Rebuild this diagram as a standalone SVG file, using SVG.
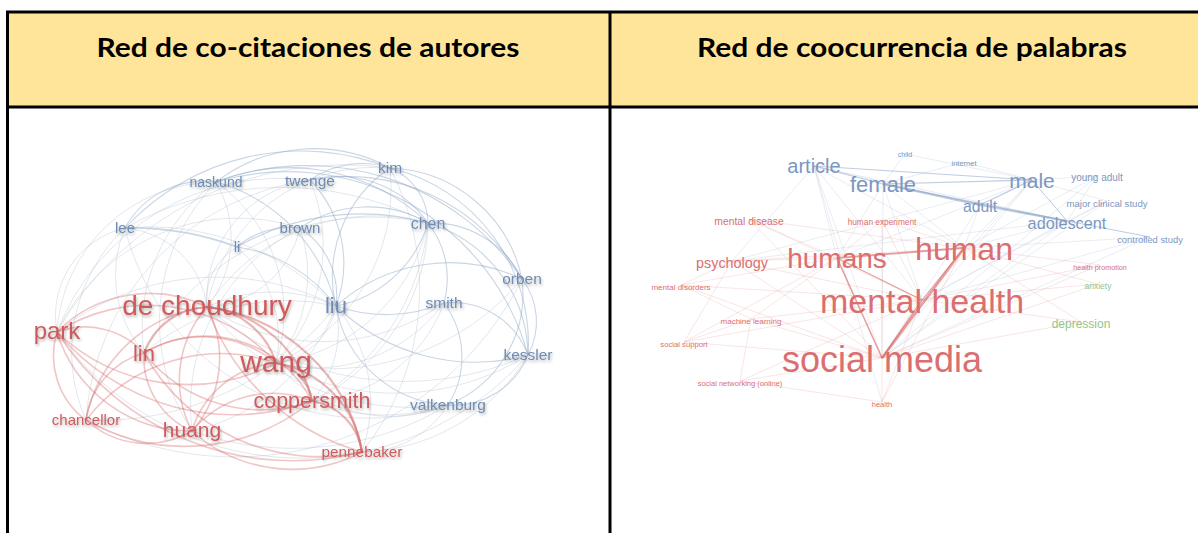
<svg xmlns="http://www.w3.org/2000/svg" width="1198" height="533" viewBox="0 0 1198 533">
<style>
.hdr{font-family:Lato,"Open Sans","Liberation Sans",sans-serif;font-weight:700;font-size:27px;fill:#000}
.ln{font-family:"Liberation Sans",Arial,sans-serif;text-anchor:middle}
.lr{fill:#cf5a5c;filter:url(#sh)}
.lb{fill:#6d8bb4;filter:url(#sh)}
.rr{fill:#db6e6f}
.rb{fill:#7c97c0}
.rg{fill:#94c48e}
.eg{fill:none;stroke:#b4bfcf;stroke-width:1;opacity:.38}
.eb{fill:none;stroke:#8aa3c4;stroke-width:1.1;opacity:.45}
.er{fill:none;stroke:#d97070;stroke-width:1.6;opacity:.4}
.ers{fill:none;stroke:#d46464;stroke-width:2.2;opacity:.48}
.rs{stroke:#d96a6a;opacity:.65}
.rl{stroke:#eba9a9;stroke-width:.8;opacity:.38}
.bs{stroke:#8aa2c6;opacity:.55}
.bl{stroke:#bcc8db;stroke-width:.8;opacity:.42}
</style>
<defs>
<filter id="sh" x="-20%" y="-40%" width="140%" height="200%">
<feDropShadow dx="1" dy="2" stdDeviation="1.6" flood-color="#000" flood-opacity="0.28"/>
</filter>
</defs>
<rect width="1198" height="533" fill="#fff"/>
<g id="table">
<rect x="7" y="12" width="1191" height="95" fill="#FFE599"/>
<line x1="6" y1="12" x2="1198" y2="12" stroke="#000" stroke-width="3"/>
<line x1="6" y1="107" x2="1198" y2="107" stroke="#000" stroke-width="3"/>
<line x1="7.5" y1="11" x2="7.5" y2="533" stroke="#000" stroke-width="3"/>
<line x1="610" y1="11" x2="610" y2="533" stroke="#000" stroke-width="3"/>
</g>
<g id="header-left"><text class="hdr" x="308" y="57" text-anchor="middle" textLength="423" lengthAdjust="spacingAndGlyphs">Red de co-citaciones de autores</text></g>
<g id="header-right"><text class="hdr" x="912" y="57" text-anchor="middle" textLength="430" lengthAdjust="spacingAndGlyphs">Red de coocurrencia de palabras</text></g>

<g id="connectors-left">
<path class="eb" style="stroke-width:1.8" d="M125 228 A 300 300 0 0 1 237 247"/>
<path class="eb" d="M237 247 A 150 150 0 0 1 336 306"/>
<path class="eb" d="M237 247 A 250 250 0 0 1 428 223"/>
<path class="eb" d="M237 247 A 80 80 0 0 1 300 228"/>
<path class="eb" d="M336 306 A 120 120 0 0 0 428 223"/>
<path class="eb" d="M336 306 A 150 150 0 0 0 444 303"/>
<path class="eb" d="M336 306 A 200 200 0 0 0 528 355"/>
<path class="eb" d="M336 306 A 120 120 0 0 0 448 405"/>
<path class="eb" d="M390 168 A 60 60 0 0 1 428 223"/>
<path class="eb" d="M310 180 A 90 90 0 0 1 390 168"/>
<path class="eb" d="M390 168 A 140 140 0 0 1 522 279"/>
<path class="eb" d="M428 223 A 100 100 0 0 1 522 279"/>
<path class="eb" d="M428 223 A 90 90 0 0 1 444 303"/>
<path class="eb" d="M216 182 A 200 200 0 0 1 428 223"/>
<path class="eb" d="M216 182 A 160 160 0 0 1 390 168"/>
<path class="eb" d="M310 180 A 120 120 0 0 1 336 306"/>
<path class="eb" d="M444 303 A 80 80 0 0 1 528 355"/>
<path class="eb" d="M528 355 A 80 80 0 0 1 448 405"/>
<path class="eb" d="M444 303 A 90 90 0 0 1 448 405"/>
<path class="eb" d="M522 279 A 70 70 0 0 1 528 355"/>
<path class="eb" d="M522 279 A 120 120 0 0 1 448 405"/>
<path class="eb" d="M390 168 A 130 130 0 0 0 336 306"/>
<path class="eb" d="M216 182 A 170 170 0 0 1 336 306"/>
<path class="eb" d="M125 228 A 90 90 0 0 1 216 182"/>
<path class="eb" d="M125 228 A 240 240 0 0 1 390 168"/>
<path class="eb" d="M310 180 A 110 110 0 0 1 428 223"/>
<path class="eb" d="M300 228 A 80 80 0 0 1 336 306"/>
<path class="eb" d="M300 228 A 120 120 0 0 1 428 223"/>
<path class="eb" d="M310 180 A 200 200 0 0 1 522 279"/>
<path class="eb" d="M390 168 A 180 180 0 0 1 528 355"/>
<path class="eb" d="M428 223 A 140 140 0 0 1 528 355"/>
<path class="eb" d="M216 182 A 260 260 0 0 1 522 279"/>
<path class="eb" d="M336 306 A 170 170 0 0 1 522 279"/>
<path class="eb" d="M216 182 A 250 250 0 0 1 528 355"/>
<path class="eg" d="M207 307 A 150 150 0 0 1 336 306"/>
<path class="eg" d="M207 307 A 200 200 0 0 1 428 223"/>
<path class="eg" d="M207 307 A 170 170 0 0 1 390 168"/>
<path class="eg" d="M207 307 A 120 120 0 0 1 310 180"/>
<path class="eg" d="M207 307 A 110 110 0 0 0 216 182"/>
<path class="eg" d="M125 228 A 90 90 0 0 1 207 307"/>
<path class="eg" d="M207 307 A 210 210 0 0 0 444 303"/>
<path class="eg" d="M276 363 A 70 70 0 0 0 336 306"/>
<path class="eg" d="M276 363 A 180 180 0 0 0 428 223"/>
<path class="eg" d="M276 363 A 160 160 0 0 0 444 303"/>
<path class="eg" d="M276 363 A 150 150 0 0 0 448 405"/>
<path class="eg" d="M276 363 A 250 250 0 0 0 528 355"/>
<path class="eg" d="M216 182 A 160 160 0 0 1 276 363"/>
<path class="eg" d="M310 180 A 170 170 0 0 1 276 363"/>
<path class="eg" d="M390 168 A 190 190 0 0 1 276 363"/>
<path class="eg" d="M57 332 A 260 260 0 0 1 336 306"/>
<path class="eg" d="M57 332 A 90 90 0 0 1 125 228"/>
<path class="eg" d="M57 332 A 160 160 0 0 1 216 182"/>
<path class="eg" d="M57 332 A 240 240 0 0 1 310 180"/>
<path class="eg" d="M57 332 A 330 330 0 0 1 390 168"/>
<path class="eg" d="M144 353 A 220 220 0 0 1 336 306"/>
<path class="eg" d="M125 228 A 120 120 0 0 0 144 353"/>
<path class="eg" d="M144 353 A 180 180 0 0 1 216 182"/>
<path class="eg" d="M312 401 A 110 110 0 0 0 336 306"/>
<path class="eg" d="M312 401 A 150 150 0 0 0 444 303"/>
<path class="eg" d="M312 401 A 200 200 0 0 0 448 405"/>
<path class="eg" d="M312 401 A 200 200 0 0 0 428 223"/>
<path class="eg" d="M192 431 A 200 200 0 0 0 336 306"/>
<path class="eg" d="M192 431 A 300 300 0 0 0 448 405"/>
<path class="eg" d="M86 420 A 300 300 0 0 0 336 306"/>
<path class="eg" d="M86 420 A 170 170 0 0 1 125 228"/>
<path class="eg" d="M362 452 A 100 100 0 0 0 448 405"/>
<path class="eg" d="M362 452 A 150 150 0 0 0 336 306"/>
<path class="eg" d="M362 452 A 200 200 0 0 0 528 355"/>
<path class="eg" d="M125 228 A 260 260 0 0 1 336 306"/>
<path class="eg" d="M125 228 A 320 320 0 0 1 428 223"/>
<path class="eg" d="M237 247 A 120 120 0 0 1 276 363"/>
<path class="eg" d="M237 247 A 60 60 0 0 0 207 307"/>
<path class="eg" d="M300 228 A 140 140 0 0 1 276 363"/>
<path class="eg" d="M300 228 A 100 100 0 0 1 207 307"/>
<path class="eg" d="M522 279 A 250 250 0 0 1 276 363"/>
<path class="eg" d="M528 355 A 300 300 0 0 1 207 307"/>
<path class="eg" d="M448 405 A 260 260 0 0 1 207 307"/>
<path class="eg" d="M125 228 A 250 250 0 0 0 448 405"/>
<path class="eg" d="M57 332 A 300 300 0 0 0 528 355"/>
<path class="eg" d="M86 420 A 320 320 0 0 0 522 279"/>
<path class="eg" d="M216 182 A 200 200 0 0 0 192 431"/>
<path class="eg" d="M310 180 A 260 260 0 0 0 86 420"/>
<path class="eg" d="M390 168 A 260 260 0 0 1 362 452"/>
<path class="eg" d="M428 223 A 230 230 0 0 1 312 401"/>
<path class="eg" d="M300 228 A 200 200 0 0 0 192 431"/>
<path class="eg" d="M57 332 A 200 200 0 0 1 300 228"/>
<path class="eg" d="M144 353 A 260 260 0 0 1 428 223"/>
<path class="er" d="M57 332 A 130 130 0 0 1 207 307"/>
<path class="ers" d="M144 353 A 70 70 0 0 1 207 307"/>
<path class="ers" d="M207 307 A 80 80 0 0 1 276 363"/>
<path class="ers" d="M207 307 A 120 120 0 0 1 312 401"/>
<path class="er" d="M207 307 A 110 110 0 0 1 192 431"/>
<path class="er" d="M207 307 A 110 110 0 0 0 192 431"/>
<path class="ers" d="M207 307 A 180 180 0 0 1 362 452"/>
<path class="er" d="M207 307 A 230 230 0 0 0 362 452"/>
<path class="er" d="M57 332 A 80 80 0 0 1 144 353"/>
<path class="er" d="M57 332 A 190 190 0 0 0 276 363"/>
<path class="er" d="M57 332 A 230 230 0 0 0 312 401"/>
<path class="er" d="M57 332 A 140 140 0 0 0 192 431"/>
<path class="er" d="M57 332 A 80 80 0 0 0 86 420"/>
<path class="er" d="M57 332 A 280 280 0 0 0 362 452"/>
<path class="er" d="M144 353 A 115 115 0 0 1 276 363"/>
<path class="er" d="M144 353 A 150 150 0 0 0 312 401"/>
<path class="er" d="M144 353 A 80 80 0 0 0 192 431"/>
<path class="er" d="M144 353 A 80 80 0 0 0 86 420"/>
<path class="ers" d="M276 363 A 45 45 0 0 1 312 401"/>
<path class="er" d="M276 363 A 95 95 0 0 0 192 431"/>
<path class="ers" d="M276 363 A 105 105 0 0 1 362 452"/>
<path class="ers" d="M312 401 A 60 60 0 0 1 362 452"/>
<path class="er" d="M192 431 A 105 105 0 0 1 312 401"/>
<path class="er" d="M86 420 A 200 200 0 0 0 312 401"/>
<path class="er" d="M86 420 A 90 90 0 0 0 192 431"/>
<path class="er" d="M192 431 A 150 150 0 0 0 362 452"/>
<path class="er" d="M207 307 A 140 140 0 0 0 86 420"/>
<path class="er" d="M144 353 A 200 200 0 0 0 362 452"/>
<path class="er" d="M86 420 A 170 170 0 0 1 276 363"/>
<path class="er" d="M57 332 A 170 170 0 0 1 276 363"/>
<path class="er" d="M144 353 A 120 120 0 0 1 312 401"/>
</g>

<g id="connectors-right" fill="none">
<line class="bl" x1="905" y1="154" x2="1032" y2="180"/>
<line class="bl" x1="964" y1="162" x2="1032" y2="180"/>
<line class="bl" x1="1097" y1="176" x2="1032" y2="180"/>
<line class="bl" x1="1097" y1="176" x2="1067" y2="221"/>
<line class="bl" x1="1107" y1="201" x2="1067" y2="221"/>
<line class="bl" x1="1107" y1="201" x2="1032" y2="180"/>
<line class="bl" x1="905" y1="154" x2="883" y2="184"/>
<line class="bl" x1="964" y1="162" x2="883" y2="184"/>
<line class="bl" x1="814" y1="166" x2="980" y2="205"/>
<line class="bl" x1="814" y1="166" x2="1067" y2="221"/>
<line class="bl" x1="814" y1="166" x2="964" y2="248"/>
<line class="bl" x1="883" y1="184" x2="964" y2="248"/>
<line class="bl" x1="1032" y1="180" x2="964" y2="248"/>
<line class="bl" x1="980" y1="205" x2="964" y2="248"/>
<line class="bl" x1="1067" y1="221" x2="964" y2="248"/>
<line class="bl" x1="814" y1="166" x2="882" y2="358"/>
<line class="bl" x1="883" y1="184" x2="882" y2="358"/>
<line class="bl" x1="1032" y1="180" x2="882" y2="358"/>
<line class="bl" x1="980" y1="205" x2="882" y2="358"/>
<line class="bl" x1="1067" y1="221" x2="882" y2="358"/>
<line class="bl" x1="814" y1="166" x2="922" y2="300"/>
<line class="bl" x1="883" y1="184" x2="922" y2="300"/>
<line class="bl" x1="1032" y1="180" x2="922" y2="300"/>
<line class="bl" x1="1067" y1="221" x2="922" y2="300"/>
<line class="bl" x1="1150" y1="237" x2="922" y2="300"/>
<line class="bl" x1="1107" y1="201" x2="922" y2="300"/>
<line class="bl" x1="1097" y1="176" x2="964" y2="248"/>
<line class="bl" x1="814" y1="166" x2="837" y2="258"/>
<line class="bl" x1="883" y1="184" x2="837" y2="258"/>
<line class="bl" x1="1032" y1="180" x2="837" y2="258"/>
<line class="bl" x1="814" y1="166" x2="882" y2="402"/>
<line class="bl" x1="814" y1="166" x2="732" y2="261"/>
<line class="bl" x1="1032" y1="180" x2="732" y2="261"/>
<line class="bl" x1="1067" y1="221" x2="732" y2="261"/>
<line class="bl" x1="1150" y1="237" x2="964" y2="248"/>
<line class="bl" x1="1097" y1="176" x2="882" y2="358"/>
<line class="bl" x1="1150" y1="237" x2="882" y2="358"/>
<line class="bl" x1="1107" y1="201" x2="882" y2="358"/>
<line class="rl" x1="749" y1="219" x2="964" y2="248"/>
<line class="rl" x1="749" y1="219" x2="837" y2="258"/>
<line class="rl" x1="749" y1="219" x2="882" y2="358"/>
<line class="rl" x1="749" y1="219" x2="922" y2="300"/>
<line class="rl" x1="732" y1="261" x2="837" y2="258"/>
<line class="rl" x1="732" y1="261" x2="882" y2="358"/>
<line class="rl" x1="732" y1="261" x2="922" y2="300"/>
<line class="rl" x1="732" y1="261" x2="964" y2="248"/>
<line class="rl" x1="681" y1="285" x2="837" y2="258"/>
<line class="rl" x1="681" y1="285" x2="882" y2="358"/>
<line class="rl" x1="681" y1="285" x2="922" y2="300"/>
<line class="rl" x1="681" y1="285" x2="732" y2="261"/>
<line class="rl" x1="751" y1="319" x2="882" y2="358"/>
<line class="rl" x1="751" y1="319" x2="922" y2="300"/>
<line class="rl" x1="751" y1="319" x2="837" y2="258"/>
<line class="rl" x1="684" y1="342" x2="882" y2="358"/>
<line class="rl" x1="684" y1="342" x2="922" y2="300"/>
<line class="rl" x1="684" y1="342" x2="837" y2="258"/>
<line class="rl" x1="740" y1="381" x2="882" y2="358"/>
<line class="rl" x1="740" y1="381" x2="922" y2="300"/>
<line class="rl" x1="740" y1="381" x2="882" y2="402"/>
<line class="rl" x1="882" y1="402" x2="882" y2="358"/>
<line class="rl" x1="882" y1="402" x2="922" y2="300"/>
<line class="rl" x1="882" y1="402" x2="964" y2="248"/>
<line class="rl" x1="882" y1="220" x2="964" y2="248"/>
<line class="rl" x1="882" y1="220" x2="837" y2="258"/>
<line class="rl" x1="882" y1="220" x2="922" y2="300"/>
<line class="rl" x1="882" y1="220" x2="882" y2="358"/>
<line class="rl" x1="1100" y1="265" x2="964" y2="248"/>
<line class="rl" x1="1100" y1="265" x2="922" y2="300"/>
<line class="rl" x1="1100" y1="265" x2="882" y2="358"/>
<line class="rl" x1="1098" y1="284" x2="922" y2="300"/>
<line class="rl" x1="1098" y1="284" x2="882" y2="358"/>
<line class="rl" x1="1081" y1="322" x2="922" y2="300"/>
<line class="rl" x1="1081" y1="322" x2="882" y2="358"/>
<line class="rl" x1="1081" y1="322" x2="964" y2="248"/>
<line class="rl" x1="1098" y1="284" x2="964" y2="248"/>
<line class="rl" x1="681" y1="285" x2="751" y2="319"/>
<line class="rl" x1="684" y1="342" x2="751" y2="319"/>
<line class="rl" x1="740" y1="381" x2="751" y2="319"/>
<line class="rl" x1="684" y1="342" x2="732" y2="261"/>
<line class="bs" stroke-width="1.2" x1="814" y1="166" x2="883" y2="184"/>
<line class="bs" stroke-width="1.2" x1="883" y1="184" x2="1032" y2="180"/>
<line class="bs" stroke-width="1" x1="814" y1="166" x2="1032" y2="180"/>
<line class="bs" stroke-width="2" x1="883" y1="184" x2="980" y2="205"/>
<line class="bs" stroke-width="2" x1="980" y1="205" x2="1067" y2="221"/>
<line class="bs" stroke-width="1.3" x1="883" y1="184" x2="1067" y2="221"/>
<line class="bs" stroke-width="1.2" x1="1032" y1="180" x2="980" y2="205"/>
<line class="bs" stroke-width="1" x1="1032" y1="180" x2="1067" y2="221"/>
<line class="bs" stroke-width="1" x1="1067" y1="221" x2="1150" y2="237"/>
<line class="rs" stroke-width="1.1" x1="922" y1="300" x2="964" y2="248"/>
<line class="rs" stroke-width="1.1" x1="837" y1="258" x2="922" y2="300"/>
<line class="rs" stroke-width="1.4" x1="882" y1="358" x2="922" y2="300"/>
<line class="rs" stroke-width="1.8" x1="837" y1="258" x2="964" y2="248"/>
<line class="rs" stroke-width="1.6" x1="882" y1="358" x2="837" y2="258"/>
<line class="rs" stroke-width="2.6" x1="882" y1="358" x2="964" y2="248"/>
</g>

<g id="n-naskund"><text class="ln lb" x="216" y="187" font-size="14">naskund</text></g>
<g id="n-twenge"><text class="ln lb" x="310" y="186" font-size="15.5">twenge</text></g>
<g id="n-kim"><text class="ln lb" x="390" y="173" font-size="15.5">kim</text></g>
<g id="n-lee"><text class="ln lb" x="125" y="233" font-size="15">lee</text></g>
<g id="n-brown"><text class="ln lb" x="300" y="233" font-size="15">brown</text></g>
<g id="n-chen"><text class="ln lb" x="428" y="229" font-size="16">chen</text></g>
<g id="n-li"><text class="ln lb" x="237" y="252" font-size="15">li</text></g>
<g id="n-orben"><text class="ln lb" x="522" y="284" font-size="15.5">orben</text></g>
<g id="n-de-choudhury"><text class="ln lr" x="207" y="315" font-size="28">de choudhury</text></g>
<g id="n-liu"><text class="ln lb" x="336" y="313" font-size="22">liu</text></g>
<g id="n-smith"><text class="ln lb" x="444" y="308" font-size="15.5">smith</text></g>
<g id="n-park"><text class="ln lr" x="57" y="339" font-size="24">park</text></g>
<g id="n-lin"><text class="ln lr" x="144" y="361" font-size="22">lin</text></g>
<g id="n-wang"><text class="ln lr" x="276" y="372" font-size="30">wang</text></g>
<g id="n-kessler"><text class="ln lb" x="528" y="360" font-size="15.5">kessler</text></g>
<g id="n-coppersmith"><text class="ln lr" x="312" y="408" font-size="21.5">coppersmith</text></g>
<g id="n-valkenburg"><text class="ln lb" x="448" y="410" font-size="15.5">valkenburg</text></g>
<g id="n-chancellor"><text class="ln lr" x="86" y="425" font-size="15">chancellor</text></g>
<g id="n-huang"><text class="ln lr" x="192" y="437" font-size="21">huang</text></g>
<g id="n-pennebaker"><text class="ln lr" x="362" y="457" font-size="15.3">pennebaker</text></g>

<g id="w-article"><text class="ln rb" x="814" y="173" font-size="20">article</text></g>
<g id="w-female"><text class="ln rb" x="883" y="192" font-size="22">female</text></g>
<g id="w-child"><text class="ln rb" x="905" y="157" font-size="7">child</text></g>
<g id="w-internet"><text class="ln rb" x="964" y="165.5" font-size="7.5">internet</text></g>
<g id="w-male"><text class="ln rb" x="1032" y="188" font-size="21">male</text></g>
<g id="w-young-adult"><text class="ln rb" x="1097" y="180.5" font-size="10">young adult</text></g>
<g id="w-adult"><text class="ln rb" x="980" y="212" font-size="15.7">adult</text></g>
<g id="w-major-clinical-study"><text class="ln rb" x="1107" y="206.5" font-size="9.6">major clinical study</text></g>
<g id="w-adolescent"><text class="ln rb" x="1067" y="229" font-size="16.3">adolescent</text></g>
<g id="w-controlled-study"><text class="ln rb" x="1150" y="242.5" font-size="9.4">controlled study</text></g>
<g id="w-mental-disease"><text class="ln rr" x="749" y="224.5" font-size="10.3">mental disease</text></g>
<g id="w-human-experiment"><text class="ln rr" x="882" y="225" font-size="8.3">human experiment</text></g>
<g id="w-psychology"><text class="ln rr" x="732" y="268" font-size="14.4">psychology</text></g>
<g id="w-humans"><text class="ln rr" x="837" y="268" font-size="28">humans</text></g>
<g id="w-human"><text class="ln rr" x="964" y="260" font-size="32">human</text></g>
<g id="w-health-promotion"><text class="ln rr" x="1100" y="269.5" font-size="7.2">health promotion</text></g>
<g id="w-mental-disorders"><text class="ln rr" x="681" y="290" font-size="8">mental disorders</text></g>
<g id="w-anxiety"><text class="ln rg" x="1098" y="289" font-size="8.5">anxiety</text></g>
<g id="w-mental-health"><text class="ln rr" x="922" y="313" font-size="34">mental health</text></g>
<g id="w-machine-learning"><text class="ln rr" x="751" y="324" font-size="8">machine learning</text></g>
<g id="w-depression"><text class="ln rg" x="1081" y="328" font-size="12">depression</text></g>
<g id="w-social-support"><text class="ln rr" x="684" y="347" font-size="7.7">social support</text></g>
<g id="w-social-media"><text class="ln rr" x="882" y="372" font-size="36">social media</text></g>
<g id="w-social-networking"><text class="ln rr" x="740" y="385.5" font-size="7.5">social networking (online)</text></g>
<g id="w-health"><text class="ln rr" x="882" y="406.5" font-size="7.5">health</text></g>
</svg>
